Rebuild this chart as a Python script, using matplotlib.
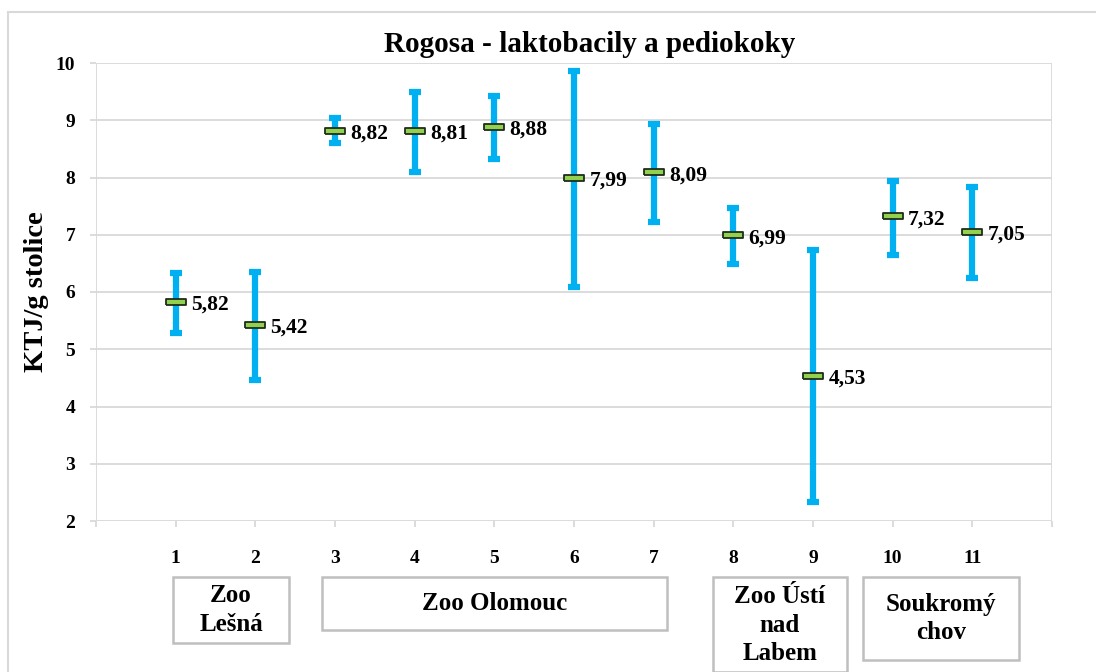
import numpy as np
import matplotlib.pyplot as plt
from matplotlib.patches import Rectangle

# data
vzorky = np.arange(1, 12)
prumer = [5.82, 5.42, 8.82, 8.81, 8.88, 7.99, 8.09, 6.99, 4.53, 7.32, 7.05]
minimum = [5.28, 4.46, 8.60, 8.10, 8.32, 6.09, 7.22, 6.49, 2.33, 6.65, 6.24]
maximum = [6.33, 6.35, 9.04, 9.49, 9.42, 9.86, 8.93, 7.47, 6.73, 7.94, 7.83]
skupiny = ["Zoo\nLešná", "Zoo Olomouc", "Zoo Ústí\nnad\nLabem", "Soukromý\nchov"]

W, H = 1096, 672
plt.rcParams["font.family"] = ["Liberation Serif", "DejaVu Serif"]
plt.rcParams["font.weight"] = "bold"

fig = plt.figure(figsize=(W / 100, H / 100), dpi=100)
ax = fig.add_axes([96 / W, 1 - 521 / H, (1052 - 96) / W, (521 - 63) / H])

# vnější rámeček grafu
fig.add_artist(Rectangle((8 / W, -0.1), 1.2, 1 - 12 / H + 0.1, transform=fig.transFigure,
                         fill=False, ec="#d9d9d9", lw=1.5))

prumer = np.array(prumer)
yerr = [prumer - np.array(minimum), np.array(maximum) - prumer]
ax.errorbar(vzorky, prumer, yerr=yerr, fmt="none", ecolor="#00b0f0",
            elinewidth=4.5, capsize=4, capthick=4.5, zorder=3)

obdelnik = [(-1, -0.3), (1, -0.3), (1, 0.3), (-1, 0.3), (-1, -0.3)]
ax.plot(vzorky, prumer, ls="none", marker=obdelnik, markersize=15,
        markerfacecolor="#92d050", markeredgecolor="#1f2d1a", markeredgewidth=1.3, zorder=4)

for x, y in zip(vzorky, prumer):
    ax.annotate(f"{y:.2f}".replace(".", ","), (x, y), xytext=(11, -2),
                textcoords="offset points", ha="left", va="center",
                fontsize=15.5, fontweight="bold")

ax.set_xlim(0, 12)
ax.set_ylim(2, 10)
ax.set_xticks(vzorky)
ax.set_xticks(np.arange(0, 13), minor=True)
ax.set_yticks(np.arange(2, 11))
ax.grid(True, which="minor", axis="x", color="#d9d9d9", lw=1.3)
ax.grid(True, which="major", axis="y", color="#d9d9d9", lw=1.3)
ax.tick_params(which="both", length=4, width=1.3, color="#d9d9d9")
ax.tick_params(axis="x", which="major", pad=17, labelsize=14)
ax.tick_params(axis="y", pad=11, labelsize=14)
for s in ax.spines.values():
    s.set_visible(False)
ax.set_axisbelow(True)

ax.set_title("Rogosa - laktobacily a pediokoky", fontsize=21, fontweight="bold",
             pad=8, x=(590 - 96) / (1052 - 96))
ax.set_ylabel("KTJ/g stolice", fontsize=20.5, fontweight="bold", labelpad=5)

# popisky skupin pod osou x
boxy = [(173, 577, 289, 643), (322, 577, 667, 630), (713, 577, 847, 672), (863, 577, 1019, 660)]
for text, (x0, y0, x1, y1) in zip(skupiny, boxy):
    fig.add_artist(Rectangle((x0 / W, 1 - y1 / H), (x1 - x0) / W, (y1 - y0) / H,
                             transform=fig.transFigure, fill=False, ec="#bfbfbf", lw=1.8))
    ty = y0 + 27 if text == "Zoo Olomouc" else (y0 + y1) / 2
    if text.count("\n") == 2:
        ty = y0 + 48
    fig.text((x0 + x1) / 2 / W, 1 - ty / H, text, ha="center", va="center",
             fontsize=18, fontweight="bold", linespacing=1.3)

fig.savefig("out.png", dpi=100)
